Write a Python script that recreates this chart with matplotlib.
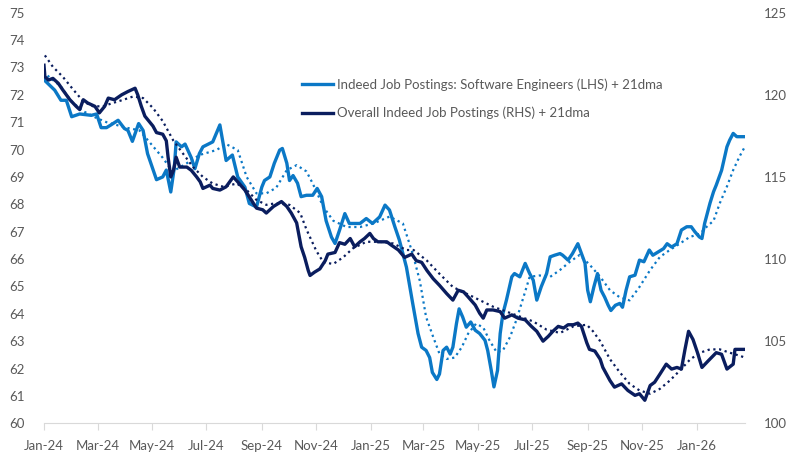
import pandas as pd
import matplotlib.pyplot as plt
import matplotlib.dates as mdates
from matplotlib.lines import Line2D

plt.rcParams['font.family'] = ['Lato', 'DejaVu Sans']

start = pd.Timestamp('2024-01-01')

# Indeed job postings: software engineers (LHS), days since 1 Jan 2024
sw_days = [0, 12, 19, 25, 31, 40, 53, 59, 64, 70, 75, 83, 90, 94, 99, 106, 111, 116,
           126, 133, 137, 142, 146, 148, 154, 158, 165, 169, 174, 178, 189, 197, 204,
           211, 217, 225, 230, 238, 244, 247, 253, 258, 264, 267, 272, 275, 279, 284,
           288, 294, 301, 306, 311, 316, 322, 326, 331, 337, 342, 354, 361, 368, 376,
           382, 387, 393, 398, 406, 413, 419, 423, 428, 432, 435, 440, 443, 447, 451,
           455, 458, 462, 465, 469, 473, 478, 483, 488, 494, 497, 501, 504, 508, 511,
           514, 518, 524, 527, 533, 539, 544, 548, 552, 557, 563, 567, 572, 578, 581,
           587, 592, 598, 602, 606, 609, 612, 616, 620, 624, 628, 632, 635, 640, 645,
           648, 652, 656, 662, 667, 672, 678, 682, 688, 694, 698, 703, 709, 714, 720,
           725, 729, 734, 737, 740, 746, 750, 753, 759, 765, 768, 772, 776, 785]
sw_vals = [72.55, 72.17, 71.8, 71.8, 71.2, 71.3, 71.25, 71.3, 70.8, 70.8, 70.9, 71.07,
           70.77, 70.7, 70.3, 70.95, 70.7, 69.85, 68.9, 69.0, 69.25, 68.45, 69.35, 70.28,
           70.1, 70.2, 69.7, 69.3, 69.85, 70.1, 70.28, 70.9, 69.6, 69.8, 69.0, 68.63,
           68.03, 67.9, 68.63, 68.87, 69.0, 69.5, 69.98, 70.04, 69.5, 68.87, 69.05, 68.77,
           68.28, 68.33, 68.33, 68.58, 68.28, 67.4, 66.8, 66.57, 67.05, 67.66, 67.3, 67.3,
           67.48, 67.3, 67.54, 67.97, 67.79, 67.18, 66.7, 65.7, 64.38, 63.28, 62.78, 62.66,
           62.4, 61.86, 61.6, 61.8, 62.66, 62.78, 62.53, 62.78, 63.64, 64.18, 63.88, 63.51,
           63.7, 63.4, 63.28, 63.03, 62.66, 61.93, 61.33, 61.93, 63.28, 64.0, 64.5, 65.35,
           65.47, 65.35, 65.84, 65.47, 65.23, 64.5, 64.99, 65.47, 66.08, 66.14, 66.2, 66.14,
           65.96, 66.2, 66.56, 66.2, 65.85, 64.86, 64.44, 64.99, 65.47, 64.86, 64.61, 64.31,
           64.12, 64.31, 64.38, 64.24, 64.86, 65.35, 65.41, 65.96, 65.9, 66.33, 66.14, 66.26,
           66.38, 66.56, 66.44, 66.56, 67.06, 67.18, 67.18, 67.0, 66.81, 66.75, 67.3, 68.04,
           68.46, 68.7, 69.24, 70.1, 70.34, 70.59, 70.47, 70.47]

# software engineers, 21dma
sw_ma_days = [4, 19, 31, 44, 59, 70, 92, 107, 120, 133, 144, 160, 174, 193, 204, 217,
              227, 238, 249, 260, 272, 283, 294, 301, 313, 324, 339, 354, 369, 387, 402,
              413, 421, 428, 436, 443, 451, 460, 468, 475, 484, 492, 499, 507, 514, 522,
              529, 537, 544, 555, 567, 578, 589, 600, 611, 623, 634, 645, 656, 667, 679,
              690, 701, 712, 723, 735, 742, 750, 757, 765, 772, 779, 785]
sw_ma_vals = [72.7, 72.3, 71.75, 71.4, 71.15, 71.0, 70.8, 70.7, 70.2, 69.7, 69.2, 69.5,
              69.8, 69.98, 70.2, 69.98, 69.0, 68.4, 68.4, 68.6, 69.25, 69.43, 69.2, 68.76,
              67.9, 67.4, 67.17, 67.17, 67.3, 67.55, 67.3, 66.2, 65.2, 63.88, 63.15, 62.54,
              62.35, 62.4, 62.78, 63.27, 63.64, 63.5, 63.03, 62.6, 62.66, 63.15, 63.76, 64.6,
              65.35, 65.4, 65.35, 65.6, 65.9, 66.15, 65.8, 65.35, 64.86, 64.6, 64.49, 64.98,
              65.6, 66.08, 66.33, 66.56, 66.8, 66.93, 67.17, 67.4, 68.04, 68.65, 69.25,
              69.74, 70.1]

# overall Indeed job postings (RHS)
all_days = [0, 1, 5, 10, 16, 21, 29, 36, 40, 44, 49, 57, 62, 68, 72, 79, 87, 94, 102,
            105, 109, 113, 122, 126, 133, 137, 139, 142, 145, 148, 152, 160, 165, 171,
            175, 178, 186, 189, 197, 204, 212, 217, 225, 231, 238, 245, 249, 257, 266,
            272, 277, 283, 288, 292, 296, 298, 303, 309, 315, 318, 326, 331, 337, 343,
            348, 354, 359, 365, 369, 374, 384, 389, 397, 404, 412, 417, 423, 429, 436,
            443, 451, 458, 464, 470, 475, 483, 488, 492, 496, 503, 511, 516, 524, 531,
            539, 546, 552, 559, 565, 570, 576, 582, 587, 593, 598, 602, 608, 611, 617,
            623, 626, 634, 639, 647, 654, 662, 667, 673, 679, 684, 690, 697, 703, 709,
            714, 718, 722, 727, 732, 737, 744, 753, 759, 765, 772, 774, 785]
all_vals = [121.8, 121.1, 120.9, 121.0, 120.7, 120.3, 119.7, 119.3, 119.1, 119.7, 119.5,
            119.3, 118.9, 119.3, 119.8, 119.7, 120.0, 120.2, 120.4, 120.0, 119.3, 118.7,
            118.1, 117.7, 117.6, 117.2, 116.2, 115.0, 115.4, 116.2, 115.6, 115.6, 115.4,
            115.0, 114.7, 114.3, 114.5, 114.3, 114.2, 114.4, 115.0, 114.7, 114.2, 113.7,
            113.1, 113.0, 112.8, 113.2, 113.5, 113.2, 112.8, 112.2, 110.75, 110.1, 109.3,
            109.0, 109.2, 109.4, 109.9, 110.3, 110.4, 111.0, 110.9, 111.25, 110.75, 111.05,
            111.25, 111.56, 111.25, 111.05, 111.05, 110.85, 110.55, 110.1, 110.3, 109.9,
            109.8, 109.3, 108.8, 108.4, 107.9, 107.5, 108.1, 108.0, 107.7, 107.2, 106.7,
            106.4, 106.9, 106.9, 106.8, 106.4, 106.6, 106.4, 106.3, 105.9, 105.6, 105.0,
            105.3, 105.6, 105.9, 105.8, 106.0, 106.0, 106.1, 105.9, 104.9, 104.5, 104.4,
            103.9, 103.4, 102.6, 102.2, 102.4, 102.0, 101.7, 101.8, 101.4, 102.3, 102.5,
            103.0, 103.6, 103.3, 103.4, 103.3, 104.5, 105.6, 105.1, 104.3, 103.4, 103.8,
            104.3, 104.2, 103.3, 103.6, 104.5, 104.5]

# overall, 21dma
all_ma_days = [1, 10, 21, 33, 44, 55, 66, 77, 89, 100, 111, 122, 133, 145, 156, 167, 178,
               189, 201, 216, 227, 238, 249, 260, 275, 287, 294, 305, 313, 324, 335, 346,
               361, 376, 391, 406, 414, 429, 443, 458, 473, 488, 503, 518, 533, 548, 563,
               578, 593, 608, 615, 623, 634, 645, 656, 667, 679, 690, 701, 712, 724, 735,
               746, 757, 768, 780, 785]
all_ma_vals = [122.4, 121.7, 121.1, 120.3, 119.6, 119.3, 119.3, 119.5, 119.7, 119.9, 119.8,
               119.2, 118.4, 117.2, 116.4, 115.6, 115.0, 114.6, 114.4, 114.6, 114.2, 113.6,
               113.3, 113.4, 113.3, 112.8, 111.8, 110.5, 109.8, 109.7, 110.1, 110.65,
               111.05, 111.05, 110.95, 110.55, 110.55, 109.9, 109.1, 108.3, 107.9, 107.5,
               107.1, 106.8, 106.5, 106.2, 105.7, 105.5, 105.9, 106.0, 105.6, 105.0, 103.9,
               103.1, 102.4, 102.0, 101.8, 102.1, 102.6, 103.2, 103.9, 104.3, 104.5, 104.5,
               104.3, 104.1, 104.0]

light = '#0B78C6'
navy = '#0A1D5E'
grey = '#595959'


def to_dates(days):
    return start + pd.to_timedelta(days, unit='D')


fig = plt.figure(figsize=(8, 4.7), dpi=100)
ax = fig.add_axes([0.055, 0.0994, 0.876, 0.8736])
ax2 = ax.twinx()

ax.plot(to_dates(sw_ma_days), sw_ma_vals, color=light, lw=1.6, ls=(0, (1, 1.6)))
ax.plot(to_dates(sw_days), sw_vals, color=light, lw=2.4, solid_joinstyle='round')
ax2.plot(to_dates(all_ma_days), all_ma_vals, color=navy, lw=1.6, ls=(0, (1, 1.6)))
ax2.plot(to_dates(all_days), all_vals, color=navy, lw=2.4, solid_joinstyle='round')

ax.set_ylim(60, 75)
ax2.set_ylim(100, 125)
ax.set_yticks(range(60, 76))
ax2.set_yticks(range(100, 126, 5))
ax.set_xlim(start, start + pd.Timedelta(days=785))

ax.xaxis.set_major_locator(mdates.MonthLocator(bymonth=[1, 3, 5, 7, 9, 11]))
ax.xaxis.set_major_formatter(mdates.DateFormatter('%b-%y'))

for a in (ax, ax2):
    for s in a.spines.values():
        s.set_visible(False)
    a.tick_params(axis='y', length=0, labelsize=9.5, labelcolor=grey, pad=14)
ax.spines['bottom'].set_visible(True)
ax.spines['bottom'].set_color('#D9D9D9')
ax.tick_params(axis='x', length=5, color='#D9D9D9', labelsize=9.5, labelcolor=grey, pad=7)

handles = [Line2D([], [], color=light, lw=2.4),
           Line2D([], [], color=navy, lw=2.4)]
labels = ['Indeed Job Postings: Software Engineers (LHS) + 21dma',
          'Overall Indeed Job Postings (RHS) + 21dma']
leg = ax2.legend(handles, labels, loc='upper left', bbox_to_anchor=(0.36, 0.853),
                 frameon=False, fontsize=9.5, handlelength=2.4, handletextpad=0.3,
                 labelspacing=1.2, labelcolor=grey, borderaxespad=0)

fig.savefig('out.png', dpi=100)
